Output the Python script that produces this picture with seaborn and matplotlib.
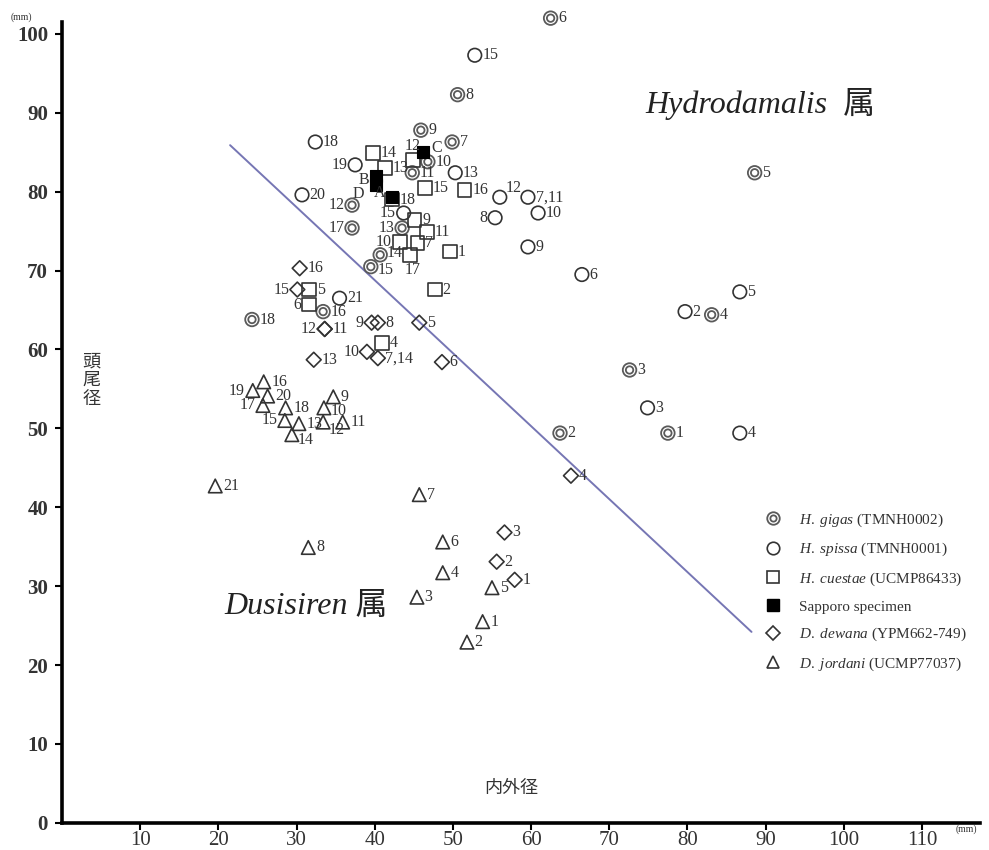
import numpy as np
import pandas as pd
import matplotlib
matplotlib.use("Agg")
import matplotlib.pyplot as plt
import seaborn as sns
from matplotlib.lines import Line2D

# ---- data (mm): x = 内外径, y = 頭尾径 ----
gigas_id = ["6", "8", "9", "7", "10", "11", "12", "17", "13", "14", "15", "16", "18", "5", "4", "3", "2", "1"]
gigas_x = [62.5, 50.6, 45.9, 49.9, 46.8, 44.8, 37.1, 37.1, 43.5, 40.7, 39.5, 33.4, 24.3, 88.6, 83.1, 72.6, 63.7, 77.5]
gigas_y = [102.0, 92.3, 87.8, 86.3, 83.8, 82.4, 78.3, 75.4, 75.4, 72.0, 70.5, 64.8, 63.8, 82.4, 64.4, 57.4, 49.4, 49.4]

spissa_id = ["15", "18", "19", "20", "13", "12", "7,11", "10", "8", "9", "6", "15", "21", "5", "2", "3", "4"]
spissa_x = [52.8, 32.4, 37.5, 30.7, 50.3, 56.0, 59.6, 60.9, 55.4, 59.6, 66.5, 43.7, 35.5, 86.7, 79.7, 74.9, 86.7]
spissa_y = [97.3, 86.3, 83.4, 79.6, 82.4, 79.3, 79.3, 77.3, 76.7, 73.0, 69.5, 77.3, 66.5, 67.3, 64.8, 52.6, 49.4]

cuestae_id = ["14", "12", "13", "15", "16", "18", "9", "11", "10", "7", "17", "1", "2", "5", "6", "4"]
cuestae_x = [39.8, 44.9, 41.3, 46.4, 51.5, 42.2, 45.1, 46.7, 43.2, 45.5, 44.5, 49.6, 47.7, 31.6, 31.6, 40.9]
cuestae_y = [84.9, 84.0, 83.0, 80.5, 80.2, 79.0, 76.4, 74.9, 73.6, 73.5, 72.0, 72.4, 67.6, 67.6, 65.7, 60.8]

sapporo_id = ["A", "B", "C", "D"]
sapporo_x = [42.2, 40.2, 46.2, 40.2]
sapporo_y = [79.3, 82.0, 85.0, 80.9]

dewana_id = ["16", "15", "12", "11", "9", "8", "5", "10", "7,14", "13", "6", "4", "3", "2", "1"]
dewana_x = [30.4, 30.1, 33.6, 33.6, 39.6, 40.4, 45.7, 39.0, 40.4, 32.2, 48.6, 65.1, 56.6, 55.6, 57.9]
dewana_y = [70.3, 67.6, 62.6, 62.6, 63.4, 63.4, 63.4, 59.7, 58.9, 58.7, 58.4, 44.0, 36.8, 33.1, 30.8]

jordani_id = ["9", "10", "11", "12", "13", "14", "15", "16", "17", "18", "19", "20", "21",
              "1", "2", "3", "4", "5", "6", "7", "8"]
jordani_x = [34.7, 33.5, 35.9, 33.4, 30.3, 29.4, 28.5, 25.8, 25.7, 28.6, 24.4, 26.3, 19.6,
             53.8, 51.8, 45.4, 48.7, 55.0, 48.7, 45.7, 31.5]
jordani_y = [54.0, 52.6, 50.8, 50.8, 50.6, 49.2, 51.0, 55.9, 52.9, 52.6, 54.8, 54.1, 42.7,
             25.5, 22.9, 28.6, 31.7, 29.8, 35.6, 41.6, 34.9]

# boundary line between the two genera
line_x = [21.5, 88.2]
line_y = [85.9, 24.2]

legend_labels = [
    r"$\it{H.\ gigas}$ (TMNH0002)",
    r"$\it{H.\ spissa}$ (TMNH0001)",
    r"$\it{H.\ cuestae}$ (UCMP86433)",
    "Sapporo specimen",
    r"$\it{D.\ dewana}$ (YPM662-749)",
    r"$\it{D.\ jordani}$ (UCMP77037)",
]

# ---- style ----
sns.set_theme(style="white")
plt.rcParams["font.family"] = ["Liberation Serif", "Noto Sans CJK JP"]
plt.rcParams["mathtext.fontset"] = "custom"
plt.rcParams["mathtext.it"] = "Liberation Serif:italic"
plt.rcParams["mathtext.rm"] = "Liberation Serif"

INK = "#333333"
GRAY = "#5a5a5a"
MS = 95

fig = plt.figure(figsize=(9.89, 8.5), dpi=100)
ax = fig.add_axes([0.0627, 0.032, 0.928, 0.942])

sns.lineplot(x=line_x, y=line_y, ax=ax, color="#7676b4", linewidth=1.4)


def hollow(xs, ys, marker, size, color, lw=1.2):
    sns.scatterplot(x=xs, y=ys, ax=ax, marker=marker, s=size, color="white",
                    edgecolor=color, linewidth=lw, zorder=3)
    coll = ax.collections[-1]
    coll.set_facecolor("none")
    coll.set_clip_on(False)


hollow(gigas_x, gigas_y, "o", MS, GRAY, 1.3)
hollow(gigas_x, gigas_y, "o", MS * 0.3, GRAY, 1.3)
hollow(spissa_x, spissa_y, "o", MS, INK)
hollow(cuestae_x, cuestae_y, "s", MS, INK)
hollow(dewana_x, dewana_y, "D", MS * 0.6, INK)
hollow(jordani_x, jordani_y, "^", MS, INK)
sns.scatterplot(x=sapporo_x, y=sapporo_y, ax=ax, marker="s", s=MS * 0.9, color="black",
                edgecolor="black", linewidth=0.8, zorder=4)

# label placement: default right of the marker
left = (-5.5, 0, "right")
offsets = {
    ("gigas", "12"): left, ("gigas", "17"): left, ("gigas", "13"): left,
    ("gigas", "14"): (5, 1, "left"), ("gigas", "15"): (5, -2.5, "left"),
    ("spissa", "19"): left, ("spissa", "8"): left, ("spissa", 11): left,
    ("spissa", "12"): (4, 7, "left"),
    ("cuestae", "6"): left, ("cuestae", "10"): left, ("cuestae", "12"): (0, 10, "center"),
    ("cuestae", "17"): (2, -11, "center"),
    ("sapporo", "A"): (-5, 3, "right"), ("sapporo", "B"): (-5, -3, "right"),
    ("sapporo", "D"): (-9, -7, "right"), ("sapporo", "C"): (6, 3, "left"),
    ("dewana", "15"): left, ("dewana", "12"): left, ("dewana", "9"): left,
    ("dewana", "10"): left,
    ("jordani", "19"): left, ("jordani", "17"): left, ("jordani", "15"): left,
    ("jordani", "10"): (5, -2.5, "left"),
    ("jordani", "14"): (4, -4, "left"), ("jordani", "12"): (4, -6, "left"),
}


def label_points(group, ids, xs, ys):
    for i, (t, x, y) in enumerate(zip(ids, xs, ys)):
        dx, dy, ha = offsets.get((group, i), offsets.get((group, t), (5.5, 0, "left")))
        ax.annotate(t, (x, y), xytext=(dx, dy), textcoords="offset points",
                    ha=ha, va="center", fontsize=11.5, color=INK, zorder=5,
                    annotation_clip=False)


label_points("gigas", gigas_id, gigas_x, gigas_y)
label_points("spissa", spissa_id, spissa_x, spissa_y)
label_points("cuestae", cuestae_id, cuestae_x, cuestae_y)
label_points("sapporo", sapporo_id, sapporo_x, sapporo_y)
label_points("dewana", dewana_id, dewana_x, dewana_y)
label_points("jordani", jordani_id, jordani_x, jordani_y)

# genus names
ax.text(74.6, 91.1, "Hydrodamalis  属", fontsize=23, style="italic", color="#222222",
        ha="left", va="center")
ax.text(20.8, 27.4, "Dusisiren 属", fontsize=23, style="italic", color="#222222",
        ha="left", va="center")

# axis titles inside the frame
ax.text(3.8, 56.1, "頭\n尾\n径", fontsize=13, family="Noto Sans CJK JP", color=INK,
        ha="center", va="center", linespacing=1.05)
ax.text(57.5, 4.4, "内外径", fontsize=13, family="Noto Sans CJK JP", color=INK,
        ha="center", va="center")

# axes
ax.set_xlim(0, 117.4)
ax.set_ylim(0, 101.5)
ax.set_xticks(range(10, 111, 10))
ax.set_yticks(range(0, 101, 10))
ax.set_xlabel("")
ax.set_ylabel("")
sns.despine(ax=ax)
for side in ["left", "bottom"]:
    ax.spines[side].set_linewidth(2.6)
    ax.spines[side].set_color("black")
ax.tick_params(axis="both", direction="out", length=5, width=1.5, color="black",
               left=True, bottom=True)
ax.tick_params(axis="x", labelsize=15, pad=1, labelcolor=INK)
ax.tick_params(axis="y", labelsize=15, pad=5, labelcolor=INK)
for lab in ax.get_yticklabels():
    lab.set_fontweight("bold")

fig.text(0.022, 0.980, "(mm)", fontsize=7, color=INK, ha="center", va="center")
fig.text(0.977, 0.024, "(mm)", fontsize=7, color=INK, ha="center", va="center")

# legend
h_gigas = (Line2D([], [], marker="o", ms=9, mfc="none", mec=GRAY, mew=1.3, ls=""),
           Line2D([], [], marker="o", ms=4.5, mfc="none", mec=GRAY, mew=1.3, ls=""))
h_spissa = Line2D([], [], marker="o", ms=9, mfc="none", mec=INK, mew=1.2, ls="")
h_cuestae = Line2D([], [], marker="s", ms=9, mfc="none", mec=INK, mew=1.2, ls="")
h_sapporo = Line2D([], [], marker="s", ms=8.5, mfc="black", mec="black", ls="")
h_dewana = Line2D([], [], marker="D", ms=7, mfc="none", mec=INK, mew=1.2, ls="")
h_jordani = Line2D([], [], marker="^", ms=9, mfc="none", mec=INK, mew=1.2, ls="")
ax.legend([h_gigas, h_spissa, h_cuestae, h_sapporo, h_dewana, h_jordani], legend_labels,
          loc="upper left", bbox_to_anchor=(0.763, 0.411), bbox_transform=fig.transFigure,
          frameon=False, fontsize=11, labelspacing=0.8, handletextpad=1.2,
          handlelength=1.0, borderpad=0.2, labelcolor=INK)

fig.savefig("out.png", dpi=100)
